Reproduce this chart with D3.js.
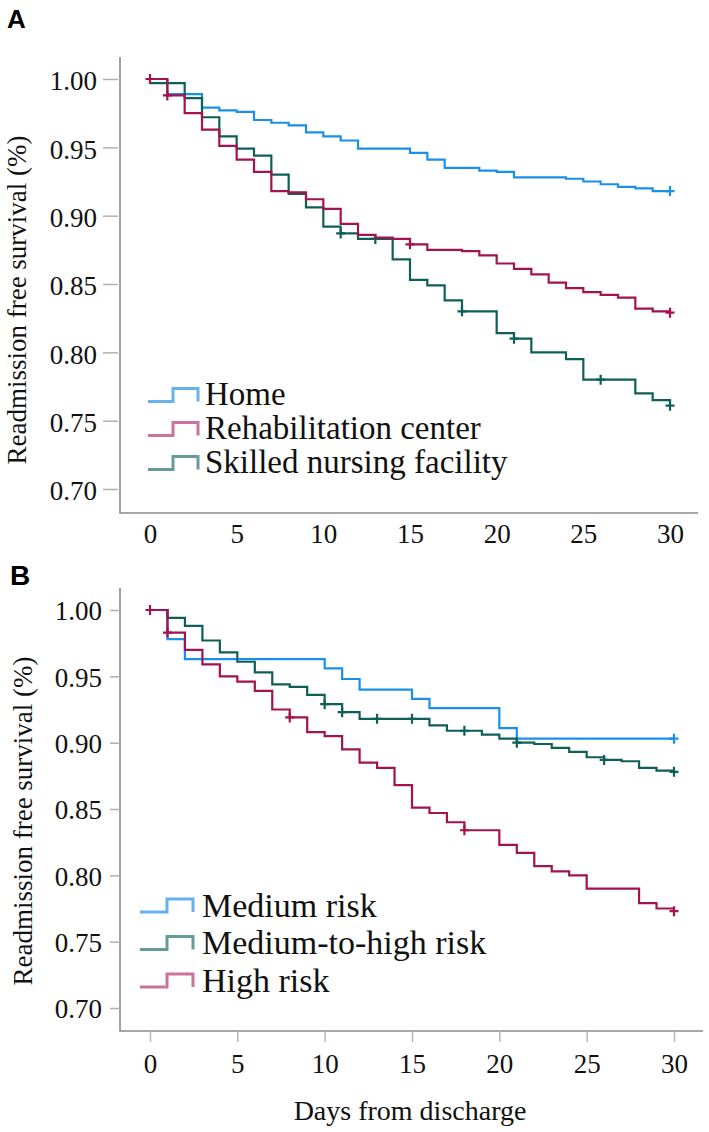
<!DOCTYPE html>
<html><head><meta charset="utf-8">
<script src="https://cdn.jsdelivr.net/npm/d3@7"></script>
<style>body{margin:0;background:#fff}svg{display:block}
svg text{font-family:'Liberation Serif','Times New Roman',serif}
svg text.letter{font-family:'Liberation Sans',Arial,sans-serif;font-weight:bold}
</style>
</head><body>
<svg id="c" width="709" height="1132"></svg>
<script>
// ---------- data ----------
const yTicks = [0.70, 0.75, 0.80, 0.85, 0.90, 0.95, 1.00];
const xTicks = [0, 5, 10, 15, 20, 25, 30];
const yTitle = "Readmission free survival (%)";
const xTitle = "Days from discharge";

const namesA = ["Home", "Rehabilitation center", "Skilled nursing facility"];
const homeA = [[0,1.000],[1,0.989],[3,0.979],[4,0.977],[5,0.976],[6,0.970],[7,0.968],[8,0.966],[9,0.961],[10,0.958],[11,0.955],[12,0.949],[15,0.946],[16,0.941],[17,0.935],[19,0.933],[20,0.932],[21,0.928],[24,0.927],[25,0.925],[26,0.923],[27,0.921],[28,0.920],[29,0.918],[30,0.918]];
const homeACens = [[30,0.918]];
const rehabA = [[0,1.000],[1,0.988],[2,0.975],[3,0.963],[4,0.951],[5,0.941],[6,0.932],[7,0.918],[8,0.917],[9,0.912],[10,0.905],[11,0.894],[12,0.886],[13,0.884],[14,0.883],[15,0.879],[16,0.875],[18,0.874],[19,0.871],[20,0.865],[21,0.861],[22,0.857],[23,0.851],[24,0.847],[25,0.844],[26,0.842],[27,0.840],[28,0.832],[29,0.830],[30,0.829]];
const rehabACens = [[0,1.000],[1,0.988],[15,0.879],[30,0.829]];
const snfA = [[0,0.997],[2,0.986],[3,0.972],[4,0.958],[5,0.949],[6,0.944],[7,0.930],[8,0.916],[9,0.906],[10,0.892],[11,0.887],[12,0.883],[14,0.868],[15,0.853],[16,0.849],[17,0.838],[18,0.830],[20,0.814],[21,0.810],[22,0.800],[24,0.795],[25,0.780],[28,0.770],[29,0.765],[30,0.761]];
const snfACens = [[11,0.887],[13,0.883],[18,0.830],[21,0.810],[26,0.780],[30,0.761]];

const namesB = ["Medium risk", "Medium-to-high risk", "High risk"];
const medB = [[0,1.000],[1,0.978],[2,0.963],[10,0.956],[11,0.948],[12,0.940],[15,0.933],[16,0.926],[20,0.911],[21,0.903],[30,0.903]];
const medBCens = [[30,0.903]];
const medHighB = [[0,1.000],[1,0.994],[2,0.988],[3,0.977],[4,0.968],[5,0.961],[6,0.953],[7,0.944],[8,0.942],[9,0.936],[10,0.929],[11,0.923],[12,0.918],[16,0.913],[17,0.909],[19,0.906],[20,0.903],[21,0.900],[22,0.899],[23,0.896],[24,0.893],[25,0.889],[26,0.887],[27,0.886],[28,0.881],[29,0.879],[30,0.878]];
const medHighBCens = [[10,0.929],[11,0.923],[13,0.918],[15,0.918],[18,0.909],[21,0.900],[26,0.887],[30,0.878]];
const highB = [[0,1.000],[1,0.983],[2,0.970],[3,0.959],[4,0.950],[5,0.946],[6,0.939],[7,0.925],[8,0.919],[9,0.908],[10,0.905],[11,0.895],[12,0.885],[13,0.881],[14,0.868],[15,0.851],[16,0.847],[17,0.840],[18,0.834],[20,0.823],[21,0.817],[22,0.807],[23,0.803],[24,0.800],[25,0.790],[28,0.779],[29,0.775],[30,0.773]];
const highBCens = [[0,1.000],[1,0.983],[8,0.919],[18,0.834],[30,0.773]];

// ---------- styles ----------
const BLUE = "#1b8fe9", CRIM = "#a3134f", TEAL = "#0f5f59";
const BLUE_L = "#4aa5ea", CRIM_L = "#c45a87", TEAL_L = "#4a8b85";
const SERIF = "'Liberation Serif','Times New Roman',serif";
const SANS = "'Liberation Sans',Arial,sans-serif";

const svg = d3.select("#c");

function panel(cfg) {
  const g = svg.append("g");
  const x = d3.scaleLinear().domain([0, 30]).range(cfg.xr);
  const y = d3.scaleLinear().domain([0.70, 1.00]).range(cfg.yr);

  g.append("path")
    .attr("d", `M${cfg.axX},${cfg.top}V${cfg.bottom}H${cfg.right}`)
    .attr("fill", "none").attr("stroke", "#8a8a8a").attr("stroke-width", 1.6);

  const ya = g.append("g").attr("transform", `translate(${cfg.yTickX},0)`)
    .call(d3.axisLeft(y).tickValues(yTicks).tickFormat(d3.format(".2f"))
      .tickSize(cfg.yTickLen).tickPadding(cfg.yPad));
  ya.attr("font-family", null).attr("font-size", null);
  ya.select(".domain").remove();
  ya.selectAll("line").attr("stroke", "#b0b0b0").attr("stroke-width", 1.5);
  ya.selectAll("text").style("font-family", SERIF).style("font-size", "27px")
    .attr("fill", "#111").attr("dy", cfg.yDy);

  const xa = g.append("g").attr("transform", `translate(0,${cfg.bottom})`)
    .call(d3.axisBottom(x).tickValues(xTicks).tickSize(cfg.xTickLen).tickPadding(cfg.xPad));
  xa.attr("font-family", null).attr("font-size", null);
  xa.select(".domain").remove();
  xa.selectAll("line").attr("stroke", "#b8b8b8").attr("stroke-width", 1.5);
  xa.selectAll("text").style("font-family", SERIF).style("font-size", "27px").attr("fill", "#111");

  g.append("text")
    .attr("transform", `translate(${cfg.titleX},${cfg.titleY}) rotate(-90)`)
    .attr("text-anchor", "middle").style("font-family", SERIF).style("font-size", "27px")
    .attr("fill", "#111").text(yTitle);

  g.append("text").attr("class", "letter").attr("x", cfg.letterX).attr("y", cfg.letterY)
    .style("font-size", cfg.letterSize + "px")
    .attr("fill", "#000").text(cfg.letter);

  const line = d3.line().x(d => x(d[0])).y(d => y(d[1])).curve(d3.curveStepAfter);
  cfg.series.forEach(s => {
    g.append("path").datum(s.data).attr("d", line)
      .attr("fill", "none").attr("stroke", s.color).attr("stroke-width", 2.2);
    g.selectAll(null).data(s.cens).enter().append("path")
      .attr("d", d => `M${x(d[0]) - 4.5},${y(d[1])}h9M${x(d[0])},${y(d[1]) - 5}v10`)
      .attr("stroke", s.color).attr("stroke-width", 2.2).attr("fill", "none");
  });

  const lg = g.append("g");
  cfg.legend.forEach((L, i) => {
    const low = cfg.legLow + i * cfg.legStep, high = low - 13;
    lg.append("path")
      .attr("d", `M${cfg.legX0},${low}H${cfg.legX1}V${high}H${cfg.legX2}V${low}`)
      .attr("fill", "none").attr("stroke", L.color).attr("stroke-width", 3)
      .attr("stroke-opacity", 0.85);
    lg.append("text").attr("x", cfg.legTextX).attr("y", low + cfg.legDy)
      .style("font-family", SERIF).style("font-size", cfg.legSize + "px").attr("fill", "#111")
      .text(L.name);
  });
}

panel({
  xr: [150, 670], yr: [489, 79], axX: 120, top: 57, bottom: 513, right: 698,
  yTickX: 118, yTickLen: 15, yPad: 6, yDy: "0.40em",
  xTickLen: 0, xPad: 11,
  titleX: 26, titleY: 300,
  letter: "A", letterX: 7, letterY: 28, letterSize: 26,
  series: [
    {data: homeA, cens: homeACens, color: BLUE},
    {data: snfA, cens: snfACens, color: TEAL},
    {data: rehabA, cens: rehabACens, color: CRIM}
  ],
  legend: [
    {name: namesA[0], color: BLUE_L},
    {name: namesA[1], color: CRIM_L},
    {name: namesA[2], color: TEAL_L}
  ],
  legLow: 401.5, legStep: 34, legX0: 148, legX1: 173, legX2: 198, legTextX: 205, legDy: 3.5, legSize: 33
});

panel({
  xr: [150, 674], yr: [1008, 610], axX: 120, top: 588, bottom: 1031, right: 703,
  yTickX: 120, yTickLen: 10, yPad: 8, yDy: "0.36em",
  xTickLen: 11, xPad: 12,
  titleX: 32, titleY: 821,
  letter: "B", letterX: 10, letterY: 585, letterSize: 28,
  series: [
    {data: medB, cens: medBCens, color: BLUE},
    {data: medHighB, cens: medHighBCens, color: TEAL},
    {data: highB, cens: highBCens, color: CRIM}
  ],
  legend: [
    {name: namesB[0], color: BLUE_L},
    {name: namesB[1], color: TEAL_L},
    {name: namesB[2], color: CRIM_L}
  ],
  legLow: 912, legStep: 37.5, legX0: 140, legX1: 167, legX2: 193, legTextX: 202, legDy: 4.5, legSize: 34
});

svg.append("text").attr("x", 410).attr("y", 1120).attr("text-anchor", "middle")
  .style("font-family", SERIF).style("font-size", "28px").attr("fill", "#111").text(xTitle);
</script>
</body></html>
